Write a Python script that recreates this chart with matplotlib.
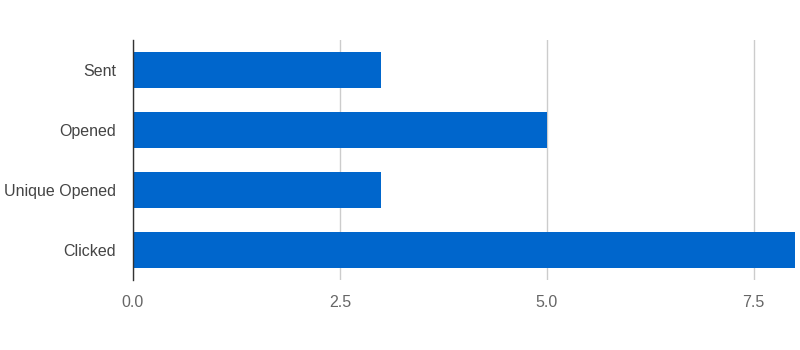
import matplotlib.pyplot as plt
import numpy as np

categories = ['Sent', 'Opened', 'Unique Opened', 'Clicked']
values = [3, 5, 3, 8]
x_ticks = [0.0, 2.5, 5.0, 7.5]

plt.rcParams['font.family'] = ['Liberation Sans', 'DejaVu Sans']

fig = plt.figure(figsize=(8, 3.5), dpi=100)
ax = fig.add_axes([133 / 800, 70 / 350, 662 / 800, 240 / 350])

y = np.arange(len(categories))
ax.barh(y, values, height=0.6, color='#0066cc', zorder=3)

ax.set_xlim(0, 8)
ax.set_ylim(len(categories) - 0.5, -0.5)
ax.set_yticks(y)
ax.set_yticklabels(categories, color='#444444', fontsize=11.5)
ax.set_xticks(x_ticks)
ax.set_xticklabels(['%.1f' % t for t in x_ticks], color='#666666', fontsize=11.5)
ax.tick_params(axis='both', length=0)
# pad is in points, ~17px gap in the original
ax.tick_params(axis='y', pad=12)
ax.tick_params(axis='x', pad=10.5)

ax.grid(axis='x', color='#cccccc', linewidth=1, zorder=0)
for s in ['top', 'right', 'bottom']:
    ax.spines[s].set_visible(False)
ax.spines['left'].set_color('#333333')
ax.spines['left'].set_linewidth(1)
ax.spines['left'].set_zorder(4)

fig.savefig('out.png', dpi=100)
